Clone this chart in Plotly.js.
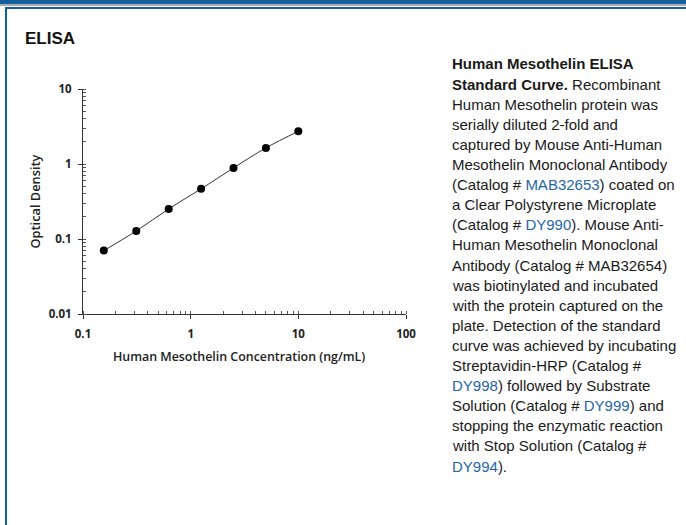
<!DOCTYPE html>
<html>
<head>
<meta charset="utf-8">
<script src="https://cdn.plot.ly/plotly-3.0.1.min.js"></script>
<style>
  html, body { margin: 0; padding: 0; background: #ffffff; }
  #wrap { position: relative; width: 686px; height: 525px; overflow: hidden; }
  #chart { position: absolute; left: 0; top: 0; width: 686px; height: 525px; }
  .fr { position: absolute; pointer-events: none; }
</style>
</head>
<body>
<div id="wrap">
  <div id="chart"></div>
  <div class="fr" style="left:0;top:0;width:686px;height:4px;background:#155f9d;"></div>
  <div class="fr" style="left:0;top:4px;width:686px;height:2px;background:#a9acb0;"></div>
  <div class="fr" style="left:5px;top:7px;width:681px;height:2px;background:#155f9d;"></div>
  <div class="fr" style="left:5px;top:7px;width:2px;height:518px;background:#155f9d;"></div>
</div>
<script>
// ---- data ----
const concentration = [0.156, 0.3125, 0.625, 1.25, 2.5, 5, 10];   // ng/mL
const opticalDensity = [0.070, 0.128, 0.252, 0.466, 0.887, 1.64, 2.73];
const xTickVals = [0.1, 1, 10, 100];
const xTickText = ['0.1', '1', '10', '100'];
const yTickVals = [0.01, 0.1, 1, 10];
const yTickText = ['0.01', '0.1', '1', '10'];

const panelTitle = 'ELISA';
const xTitle = 'Human Mesothelin Concentration (ng/mL)';
const yTitle = 'Optical Density';
const LINK = '#1f65a8';
const link = t => '<span style="color:' + LINK + '">' + t + '</span>';
const captionLines = [
  '<b>Human Mesothelin ELISA</b>',
  '<b>Standard Curve.</b> Recombinant',
  'Human Mesothelin protein was',
  'serially diluted 2-fold and',
  'captured by Mouse Anti-Human',
  'Mesothelin Monoclonal Antibody',
  '(Catalog # ' + link('MAB32653') + ') coated on',
  'a Clear Polystyrene Microplate',
  '(Catalog # ' + link('DY990') + '). Mouse Anti-',
  'Human Mesothelin Monoclonal',
  'Antibody (Catalog # MAB32654)',
  'was biotinylated and incubated',
  'with the protein captured on the',
  'plate. Detection of the standard',
  'curve was achieved by incubating',
  'Streptavidin-HRP (Catalog #',
  link('DY998') + ') followed by Substrate',
  'Solution (Catalog # ' + link('DY999') + ') and',
  'stopping the enzymatic reaction',
  'with Stop Solution (Catalog #',
  link('DY994') + ').'
];

// ---- layout geometry (pixels) ----
const W = 686, H = 525;
const PL = 83, PR = 406, PT = 89, PB = 314;
const px2x = p => (p - PL) / (PR - PL);
const px2y = p => (PB - p) / (PB - PT);

const SANS = '"Liberation Sans", Arial, sans-serif';
const OPEN = '"Open Sans", sans-serif';
const tickFont = { family: OPEN, size: 11.5, color: '#222', weight: 700 };
const titleFont = { family: OPEN, size: 12.4, color: '#222', weight: 600 };

const annotations = [{
  text: '<b>' + panelTitle + '</b>', xref: 'paper', yref: 'paper',
  x: px2x(23), y: px2y(38.5), xanchor: 'left', yanchor: 'middle', showarrow: false,
  font: { family: SANS, size: 17, color: '#111' }
}, {
  text: xTitle, xref: 'paper', yref: 'paper',
  x: px2x(239), y: px2y(356), xanchor: 'center', yanchor: 'middle', showarrow: false,
  font: titleFont
}, {
  text: yTitle, xref: 'paper', yref: 'paper', textangle: -90,
  x: px2x(34), y: px2y(201.5), xanchor: 'center', yanchor: 'middle', showarrow: false,
  font: Object.assign({}, titleFont, { size: 12.8 })
}];
captionLines.forEach((ln, i) => {
  annotations.push({
    text: ln, xref: 'paper', yref: 'paper',
    x: px2x(450), y: px2y(64 + i * 20.1), xanchor: 'left', yanchor: 'middle',
    showarrow: false, align: 'left',
    font: { family: SANS, size: 15, color: '#1a1a1a' }
  });
});

const trace = {
  x: concentration, y: opticalDensity,
  type: 'scatter', mode: 'lines+markers',
  line: { color: '#333', width: 1, shape: 'spline', smoothing: 1 },
  marker: { color: '#000', size: 8 },
  hoverinfo: 'skip', showlegend: false
};

const commonAxis = {
  type: 'log', showgrid: false, zeroline: false,
  showline: true, linecolor: '#333', linewidth: 1,
  ticks: 'outside', ticklen: 4, tickcolor: '#333', tickwidth: 1,
  tickfont: tickFont, tickmode: 'array',
  minor: { ticks: 'inside', ticklen: 3, tickcolor: '#555', tickwidth: 1, dtick: 'D1', showgrid: false }
};

const layout = {
  width: W, height: H,
  margin: { l: PL, r: W - PR, t: PT, b: H - PB, pad: 0 },
  paper_bgcolor: 'rgba(0,0,0,0)', plot_bgcolor: 'rgba(0,0,0,0)',
  xaxis: Object.assign({}, commonAxis, {
    range: [-1, 2], tickvals: xTickVals, ticktext: xTickText, ticklabelstandoff: 5
  }),
  yaxis: Object.assign({}, commonAxis, {
    range: [-2, 1], tickvals: yTickVals, ticktext: yTickText, ticklabelstandoff: 4
  }),
  annotations: annotations
};

Plotly.newPlot('chart', [trace], layout, { staticPlot: true, displayModeBar: false });
</script>
</body>
</html>
